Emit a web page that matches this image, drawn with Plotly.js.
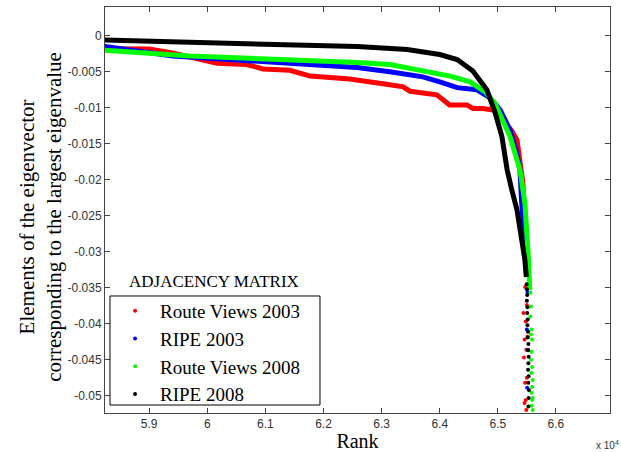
<!DOCTYPE html>
<html>
<head>
<meta charset="utf-8">
<script src="https://cdn.plot.ly/plotly-3.0.1.min.js"></script>
<style>
html, body { margin: 0; padding: 0; background: #fff; }
#chart { width: 621px; height: 452px; }
</style>
</head>
<body>
<div id="chart"></div>
<script>
// Series names
const seriesNames = ["Route Views 2003", "RIPE 2003", "Route Views 2008", "RIPE 2008"];

// Main (continuous) part of each sorted eigenvector
const rv03Rank = [58000, 59000, 59400, 59700, 60170, 60680, 60960, 61420, 61770, 62450, 62850, 63140, 63370, 63490, 63950, 64170, 64470, 64570, 64740, 64920, 65000, 65150, 65240, 65330, 65380, 65430, 65445, 65465, 65480, 65490];
const rv03Val  = [-0.0018, -0.00185, -0.0024, -0.0030, -0.0038, -0.0040, -0.0046, -0.0048, -0.0056, -0.0060, -0.0064, -0.0068, -0.0071, -0.0077, -0.0082, -0.0096, -0.0096, -0.0101, -0.0101, -0.0103, -0.0108, -0.0122, -0.0132, -0.0145, -0.0172, -0.0204, -0.0228, -0.0265, -0.0307, -0.0330];

const ripe03Rank = [58000, 58240, 59410, 60440, 61420, 62580, 63140, 63710, 64000, 64300, 64640, 64860, 65040, 65210, 65310, 65380, 65410, 65465, 65500];
const ripe03Val  = [-0.0014, -0.0015, -0.0028, -0.0033, -0.0038, -0.0044, -0.0050, -0.0057, -0.0064, -0.0072, -0.0075, -0.0086, -0.0103, -0.0131, -0.0158, -0.0186, -0.0232, -0.0283, -0.0325];

const rv08Rank = [58000, 58240, 59700, 61420, 62580, 63140, 63710, 64180, 64520, 64780, 64950, 65070, 65210, 65380, 65465, 65520, 65550];
const rv08Val  = [-0.0019, -0.0020, -0.0028, -0.0033, -0.0037, -0.0040, -0.0049, -0.0056, -0.0064, -0.0078, -0.0094, -0.0114, -0.0140, -0.0186, -0.0232, -0.0301, -0.0353];

const ripe08Rank = [58000, 58240, 59700, 61420, 62580, 63440, 64000, 64300, 64570, 64810, 64950, 65070, 65160, 65240, 65330, 65410, 65465, 65490];
const ripe08Val  = [-0.0006, -0.0006, -0.0009, -0.0013, -0.0015, -0.0019, -0.0026, -0.0033, -0.0049, -0.0075, -0.0106, -0.0140, -0.0186, -0.0214, -0.0242, -0.0283, -0.0311, -0.0335];

// Scattered tail points (largest-magnitude elements)
const rv03TailRank = [65470, 65500, 65440, 65480, 65510, 65460, 65490, 65450, 65500, 65470, 65480, 65460, 65490];
const rv03TailVal  = [-0.0349, -0.0374, -0.0385, -0.0397, -0.0418, -0.0422, -0.0436, -0.0447, -0.0475, -0.0482, -0.0506, -0.0510, -0.0520];

const ripe03TailRank = [65510, 65500, 65520, 65505];
const ripe03TailVal  = [-0.0356, -0.0408, -0.0436, -0.0489];

const rv08TailRank = [65560, 65570, 65560, 65580, 65570, 65590, 65580, 65570, 65590, 65580, 65600, 65590, 65580, 65600, 65590, 65580, 65600];
const rv08TailVal  = [-0.0357, -0.0376, -0.0390, -0.0408, -0.0415, -0.0422, -0.0439, -0.0450, -0.0460, -0.0468, -0.0478, -0.0488, -0.0496, -0.0503, -0.0506, -0.0514, -0.0520];

const ripe08TailRank = [65495, 65500, 65505, 65500, 65510, 65505, 65515, 65510, 65520, 65515, 65525, 65520, 65530, 65525, 65520, 65530, 65525, 65535, 65530, 65525];
const ripe08TailVal  = [-0.0345, -0.0352, -0.0360, -0.0368, -0.0377, -0.0385, -0.0394, -0.0402, -0.0411, -0.0419, -0.0428, -0.0437, -0.0446, -0.0455, -0.0464, -0.0473, -0.0482, -0.0492, -0.0503, -0.0515];

// Tick labels
const xTickVals = [59000, 60000, 61000, 62000, 63000, 64000, 65000, 66000];
const xTickText = ["5.9", "6", "6.1", "6.2", "6.3", "6.4", "6.5", "6.6"];
const yTickVals = [0, -0.005, -0.01, -0.015, -0.02, -0.025, -0.03, -0.035, -0.04, -0.045, -0.05];
const yTickText = ["0", "-0.005", "-0.01", "-0.015", "-0.02", "-0.025", "-0.03", "-0.035", "-0.04", "-0.045", "-0.05"];

const colors = ["#ff0000", "#0000ff", "#00ff00", "#000000"];
const mainRanks = [rv03Rank, ripe03Rank, rv08Rank, ripe08Rank];
const mainVals = [rv03Val, ripe03Val, rv08Val, ripe08Val];
const tailRanks = [rv03TailRank, ripe03TailRank, rv08TailRank, ripe08TailRank];
const tailVals = [rv03TailVal, ripe03TailVal, rv08TailVal, ripe08TailVal];

const traces = [];
for (let i = 0; i < 4; i++) {
  traces.push({
    x: mainRanks[i], y: mainVals[i], type: "scatter", mode: "lines",
    line: { color: colors[i], width: 5 }, showlegend: false, hoverinfo: "skip"
  });
}
for (let i = 0; i < 4; i++) {
  traces.push({
    x: tailRanks[i], y: tailVals[i], type: "scatter", mode: "markers",
    marker: { color: colors[i], size: 4, symbol: "circle" },
    name: seriesNames[i]
  });
}

const serif = "Liberation Serif, Times New Roman, serif";
const sans = "Liberation Sans, Arial, sans-serif";

const layout = {
  width: 621, height: 452,
  margin: { l: 105, r: 11, t: 7, b: 39 },
  paper_bgcolor: "#ffffff", plot_bgcolor: "#ffffff",
  showlegend: true,
  xaxis: {
    range: [58240, 66930],
    tickvals: xTickVals, ticktext: xTickText,
    ticks: "inside", ticklen: 5, tickcolor: "#444", mirror: "ticks",
    showline: true, linecolor: "#444", linewidth: 1,
    showgrid: false, zeroline: false,
    tickfont: { family: sans, size: 12, color: "#333" },
    title: { text: "Rank", font: { family: serif, size: 20, color: "#000" }, standoff: 6 }
  },
  yaxis: {
    range: [-0.0524, 0.004],
    tickvals: yTickVals, ticktext: yTickText,
    ticks: "inside", ticklen: 5, tickcolor: "#444", mirror: "ticks",
    showline: true, linecolor: "#444", linewidth: 1,
    showgrid: false, zeroline: false,
    tickfont: { family: sans, size: 12, color: "#333" }
  },
  legend: {
    x: 0.01, y: 0.298, xanchor: "left", yanchor: "top",
    bgcolor: "rgba(0,0,0,0)", borderwidth: 0,
    font: { family: serif, size: 19, color: "#000" },
    itemwidth: 40, tracegroupgap: 0
  },
  shapes: [
    {
      type: "rect", xref: "paper", yref: "paper",
      x0: 0.0099, x1: 0.4257, y0: 0.0197, y1: 0.2882,
      line: { color: "#000000", width: 1 }, fillcolor: "#ffffff", layer: "above"
    }
  ],
  annotations: [
    {
      text: "Elements of the eigenvector<br>corresponding to the largest eigenvalue",
      xref: "paper", yref: "paper", x: -0.127, y: 0.483,
      xanchor: "center", yanchor: "middle", textangle: -90, showarrow: false,
      font: { family: serif, size: 21, color: "#000" }
    },
    {
      text: "ADJACENCY MATRIX",
      xref: "paper", yref: "paper", x: 0.2158, y: 0.3227,
      xanchor: "center", yanchor: "middle", showarrow: false,
      font: { family: serif, size: 17, color: "#000" }
    },
    {
      text: "x 10<sup>4</sup>",
      xref: "paper", yref: "paper", x: 1.0218, y: -0.079,
      xanchor: "right", yanchor: "middle", showarrow: false,
      font: { family: sans, size: 10, color: "#333" }
    }
  ]
};

Plotly.newPlot("chart", traces, layout, { displayModeBar: false, staticPlot: true });
</script>
</body>
</html>
